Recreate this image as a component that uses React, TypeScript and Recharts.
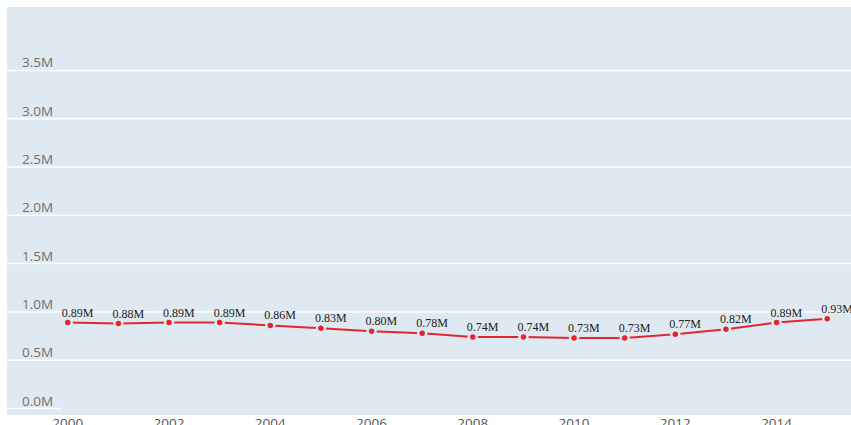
import { LineChart, Line, XAxis, YAxis, CartesianGrid, LabelList, ReferenceLine } from 'recharts';

const YEARS = [2000, 2001, 2002, 2003, 2004, 2005, 2006, 2007, 2008, 2009, 2010, 2011, 2012, 2013, 2014, 2015];
const VALUES = [0.89, 0.88, 0.89, 0.89, 0.86, 0.83, 0.8, 0.78, 0.74, 0.74, 0.73, 0.73, 0.77, 0.82, 0.89, 0.93].map((v) => v * 1e6);
const X_TICKS = [2000, 2002, 2004, 2006, 2008, 2010, 2012, 2014];
const Y_TICKS = [0, 0.5e6, 1e6, 1.5e6, 2e6, 2.5e6, 3e6, 3.5e6];

const data = YEARS.map((year, i) => ({ year, value: VALUES[i] }));

const BG = '#dee9f1';
const RED = '#e3262e';

const fmt = (v: number) => `${(v / 1e6).toFixed(1)}M`;

function YTick({ y, payload }: any) {
  return (
    <text x={22} y={y - 3} fill="#707070" fontSize={13.5} fontFamily="Open Sans, sans-serif" textAnchor="start">
      {fmt(payload.value)}
    </text>
  );
}

function XTick({ x, y, payload }: any) {
  return (
    <text x={x} y={y + 5} fill="#555" fontSize={13.5} fontFamily="Open Sans, sans-serif" textAnchor="middle">
      {payload.value}
    </text>
  );
}

function PointLabel({ x, y, value }: any) {
  return (
    <text x={x - 6} y={y - 6} fill="#222" fontSize={12} fontFamily="Liberation Serif, serif" textAnchor="start">
      {(value / 1e6).toFixed(2)}M
    </text>
  );
}

export default function App() {
  return (
    <div style={{ position: 'absolute', left: 0, top: 0 }}>
      <LineChart width={851} height={425} data={data} margin={{ top: 7, right: 0, left: 6, bottom: 0 }}>
        <CartesianGrid
          fill={BG}
          vertical={false}
          stroke="#ffffff"
          strokeWidth={1.5}
          horizontalValues={Y_TICKS.slice(1)}
        />
        <ReferenceLine
          segment={[{ x: 1998.8, y: 0 }, { x: 1999.88, y: 0 }]}
          stroke="#ffffff"
          strokeWidth={1.5}
          ifOverflow="visible"
        />
        <XAxis
          dataKey="year"
          type="number"
          domain={[1998.8, 2015.47]}
          ticks={X_TICKS}
          height={10}
          axisLine={false}
          tickLine={false}
          tick={<XTick />}
          allowDataOverflow
        />
        <YAxis
          type="number"
          domain={[-0.067e6, 4.156e6]}
          ticks={Y_TICKS}
          width={1}
          axisLine={false}
          tickLine={false}
          tick={<YTick />}
          allowDataOverflow
        />
        <Line
          dataKey="value"
          stroke={RED}
          strokeWidth={2}
          dot={{ r: 4, fill: RED, stroke: BG, strokeWidth: 2.5 }}
          isAnimationActive={false}
        >
          <LabelList dataKey="value" content={<PointLabel />} />
        </Line>
      </LineChart>
    </div>
  );
}
